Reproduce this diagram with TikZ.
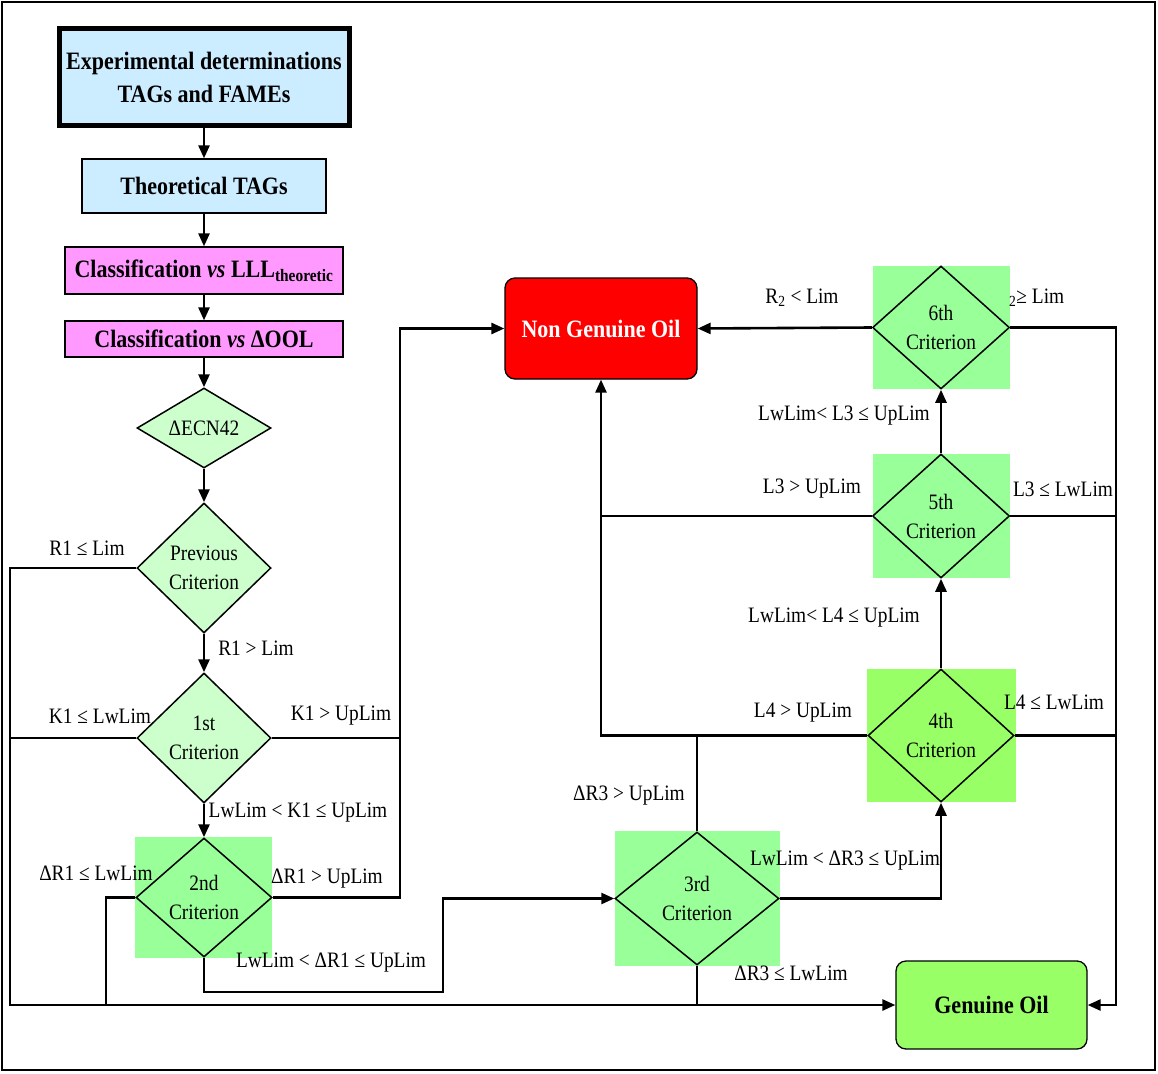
\documentclass[tikz,border=0pt]{standalone}
\usepackage{fontspec}
\setmainfont{Liberation Serif}[FakeStretch=0.88]
\usetikzlibrary{shapes.geometric,arrows.meta}
\definecolor{lblue}{HTML}{CCECFF}
\definecolor{lpink}{HTML}{FF99FF}
\definecolor{lgreen}{HTML}{CCFFCC}
\definecolor{mgreen}{HTML}{99FF99}
\definecolor{bgreen}{HTML}{99FF66}
\begin{document}
\begin{tikzpicture}[x=1pt,y=-1pt,
  box/.style={draw, line width=1.3, inner sep=0, align=center, font=\bfseries\fontsize{25}{33}\selectfont},
  dia/.style={diamond, draw, line width=1.5, inner sep=0},
  sq/.style={inner sep=0, draw=none},
  dtxt/.style={align=center, inner sep=0, font=\fontsize{22}{29}\selectfont},
  lbl/.style={inner sep=0, font=\fontsize{22}{26}\selectfont},
  conn/.style={line width=2.6},
  arr/.style={line width=2.6, -{Triangle[length=13pt,width=11pt]}}]
\useasboundingbox (0,0) rectangle (1158,1073);
\draw[line width=2.5] (2,2) rectangle (1155,1070);

% background squares
\node[sq, fill=mgreen, minimum width=137, minimum height=121] (s2) at (203.5,897.5) {};
\node[sq, fill=mgreen, minimum width=165, minimum height=135] (s3) at (697.5,898.5) {};
\node[sq, fill=bgreen, minimum width=149, minimum height=133] (s4) at (941.5,735.5) {};
\node[sq, fill=mgreen, minimum width=137, minimum height=124] (s5) at (941.5,516) {};
\node[sq, fill=mgreen, minimum width=137, minimum height=123] (s6) at (941.5,327.5) {};

% boxes
\node[box, fill=lblue, line width=5, minimum width=290, minimum height=96] (exp) at (204,77) {Experimental determinations\\TAGs and FAMEs};
\node[box, fill=lblue, minimum width=244, minimum height=54] (theo) at (204,186) {Theoretical TAGs};
\node[box, fill=lpink, minimum width=278, minimum height=47] (cl1) at (204,270.5) {Classification \textit{vs} LLL\textsubscript{theoretic}};
\node[box, fill=lpink, minimum width=278, minimum height=36] (cl2) at (204,339) {Classification \textit{vs} ΔOOL};
\node[box, fill=red, text=white, rounded corners=10, minimum width=192, minimum height=101] (ngo) at (601,328.5) {Non Genuine Oil};
\node[box, fill=bgreen, rounded corners=10, minimum width=191, minimum height=88] (gen) at (991.5,1005) {Genuine Oil};

% diamonds
\node[dia, fill=lgreen, minimum width=134, minimum height=80] (ecn) at (204,428) {};
\node[dia, fill=lgreen, minimum width=134, minimum height=130] (prev) at (204,568) {};
\node[dia, fill=lgreen, minimum width=134, minimum height=130] (c1) at (204,738) {};
\node[dia, minimum width=136, minimum height=119] (c2) at (204,897.5) {};
\node[dia, minimum width=164, minimum height=133] (c3) at (697,898.5) {};
\node[dia, minimum width=146, minimum height=133] (c4) at (941,735.5) {};
\node[dia, minimum width=137, minimum height=124] (c5) at (941,516) {};
\node[dia, minimum width=137, minimum height=123] (c6) at (941,327.5) {};

\node[dtxt] (t0) at (ecn) {ΔECN42};
\node[dtxt] (tp) at (prev) {Previous\\Criterion};
\node[dtxt] (t1) at (c1) {1st\\Criterion};
\node[dtxt] (t2) at (c2) {2nd\\Criterion};
\node[dtxt] (t3) at (c3) {3rd\\Criterion};
\node[dtxt] (t4) at (c4) {4th\\Criterion};
\node[dtxt] (t5) at (c5) {5th\\Criterion};
\node[dtxt] (t6) at (c6) {6th\\Criterion};

% helper coordinates
\coordinate (Lx) at (10,1005);
\coordinate (L2) at (106,1005);
\coordinate (kx) at (400,0);
\coordinate (m1) at (443,992);
\coordinate (rx) at (1116,0);

% vertical chain
\draw[arr] (exp.south) -- (theo.north);
\draw[arr] (theo.south) -- (cl1.north);
\draw[arr] (cl1.south) -- (cl2.north);
\draw[arr] (cl2.south) -- (ecn.north);
\draw[arr] (ecn.south) -- (prev.north);
\draw[arr] (prev.south) -- (c1.north);
\draw[arr] (c1.south) -- (c2.north);

% left side to Genuine Oil
\draw[arr] (prev.west) -| (Lx) -- (gen.west);
\draw[conn] (c1.west) -- (c1.west -| Lx);
\draw[conn] (c2.west) -| (L2);
\draw[conn] (c3.south) -- (c3.south |- Lx);

% to Non Genuine Oil (left branch)
\draw[arr] (c1.east) -| (ngo.west -| kx) -- (ngo.west);
\draw[conn] (c2.east) -| (c1.east -| kx);

% 2nd -> 3rd
\draw[arr] (c2.south) |- (m1) |- (c3.west);

% 3rd and up
\draw[conn] (c3.north) -- (c3.north |- c4.west);
\draw[arr] (c4.west) -| (ngo.south);
\draw[conn] (c5.west) -- (c5.west -| ngo.south);
\draw[arr] (c3.east) -| (c4.south);
\draw[arr] (c4.north) -- (c5.south);
\draw[arr] (c5.north) -- (c6.south);
\draw[arr] (c6.west) -- (ngo.east);
\draw[arr] (c6.east) -| (rx |- gen.east) -- (gen.east);
\draw[conn] (c5.east) -- (c5.east -| rx);
\draw[conn] (c4.east) -- (c4.east -| rx);

% labels
\node[lbl] (l1) at (87,548) {R1 ≤ Lim};
\node[lbl] (l2) at (256,648) {R1 > Lim};
\node[lbl] (l3) at (100,716) {K1 ≤ LwLim};
\node[lbl] (l4) at (341,716) {K1 > UpLim};
\node[lbl] (l5) at (298,813) {LwLim < K1 ≤ UpLim};
\node[lbl] (l6) at (96,873) {ΔR1 ≤ LwLim};
\node[lbl] (l7) at (327,879) {ΔR1 > UpLim};
\node[lbl] (l8) at (331,963) {LwLim < ΔR1 ≤ UpLim};
\node[lbl] (l9) at (629,796) {ΔR3 > UpLim};
\node[lbl] (l10) at (791,973) {ΔR3 ≤ LwLim};
\node[lbl] (l11) at (845,861) {LwLim < ΔR3 ≤ UpLim};
\node[lbl] (l12) at (803,713) {L4 > UpLim};
\node[lbl] (l13) at (1054,702) {L4 ≤ LwLim};
\node[lbl] (l14) at (834,618) {LwLim< L4 ≤ UpLim};
\node[lbl] (l15) at (812,489) {L3 > UpLim};
\node[lbl] (l16) at (1063,489) {L3 ≤ LwLim};
\node[lbl] (l17) at (844,416) {LwLim< L3 ≤ UpLim};
\node[lbl] (l18) at (802,298) {R\textsubscript{2} < Lim};
\node[lbl, anchor=west] (l19) at (1009,298) {\textsubscript{2}≥ Lim};
\end{tikzpicture}
\end{document}
